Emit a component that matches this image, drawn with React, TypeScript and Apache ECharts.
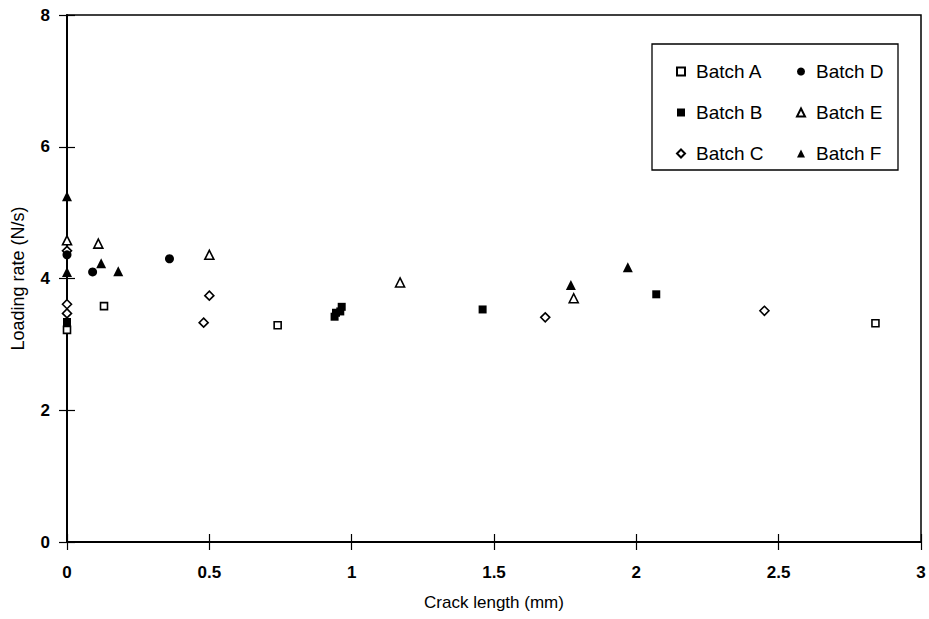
import React, { useEffect, useRef } from "react";
import * as echarts from "echarts";

const xTicks = [0, 0.5, 1, 1.5, 2, 2.5, 3];
const yTicks = [0, 2, 4, 6, 8];

const batchA: number[][] = [[0, 3.22], [0.13, 3.58], [0.74, 3.29], [2.84, 3.32]];
const batchB: number[][] = [[0, 3.34], [0.94, 3.42], [0.945, 3.48], [0.96, 3.5], [0.965, 3.57], [1.46, 3.53], [2.07, 3.76]];
const batchC: number[][] = [[0, 3.47], [0, 3.61], [0, 4.42], [0.48, 3.33], [0.5, 3.74], [1.68, 3.41], [2.45, 3.51]];
const batchD: number[][] = [[0, 4.36], [0.09, 4.1], [0.36, 4.3]];
const batchE: number[][] = [[0, 4.58], [0.11, 4.53], [0.5, 4.36], [1.17, 3.94], [1.78, 3.7]];
const batchF: number[][] = [[0, 5.25], [0, 4.1], [0.12, 4.23], [0.18, 4.11], [1.77, 3.9], [1.97, 4.17]];

const FONT = "Liberation Sans, Arial, sans-serif";

export default function App() {
  const ref = useRef<HTMLDivElement>(null);
  useEffect(() => {
    if (!ref.current) return;
    const chart = echarts.init(ref.current, undefined, { renderer: "svg" });
    const open = { color: "#fff", borderColor: "#000", borderWidth: 1.6, opacity: 1 };
    const filled = { color: "#000", borderColor: "#000", borderWidth: 0, opacity: 1 };
    const series = [
      { name: "Batch A", data: batchA, symbol: "rect", symbolSize: 7, itemStyle: open },
      { name: "Batch B", data: batchB, symbol: "rect", symbolSize: 8, itemStyle: filled },
      { name: "Batch C", data: batchC, symbol: "diamond", symbolSize: 9, itemStyle: open },
      { name: "Batch D", data: batchD, symbol: "circle", symbolSize: 9, itemStyle: filled },
      { name: "Batch E", data: batchE, symbol: "triangle", symbolSize: 9, itemStyle: open },
      { name: "Batch F", data: batchF, symbol: "triangle", symbolSize: 10, itemStyle: filled },
    ].map((s) => ({ ...s, type: "scatter", xAxisIndex: 0, yAxisIndex: 0, z: 5 }));

    const legendCommon = {
      orient: "vertical",
      itemWidth: 8,
      itemHeight: 8,
      itemGap: 22,
      selectedMode: false,
      textStyle: { fontFamily: FONT, fontSize: 19, color: "#000", padding: [0, 0, 0, 6] },
    };

    chart.setOption({
      animation: false,
      backgroundColor: "#fff",
      grid: {
        left: 67,
        right: 8,
        top: 15,
        bottom: 77,
        show: true,
        borderColor: "#000",
        borderWidth: 1.5,
        backgroundColor: "transparent",
      },
      legend: [
        { ...legendCommon, left: 671, top: 57, data: ["Batch A", "Batch B", "Batch C"] },
        { ...legendCommon, left: 791, top: 57, data: ["Batch D", "Batch E", "Batch F"] },
      ],
      graphic: [
        {
          type: "rect",
          shape: { x: 652, y: 44, width: 246, height: 126 },
          style: { fill: "#fff", stroke: "#000", lineWidth: 1.3 },
          z: 0,
        },
      ],
      xAxis: [
        {
          type: "value",
          min: xTicks[0],
          max: xTicks[xTicks.length - 1],
          interval: 0.5,
          position: "bottom",
          name: "Crack length (mm)",
          nameLocation: "middle",
          nameGap: 52,
          nameTextStyle: { fontFamily: FONT, fontSize: 17, color: "#000" },
          axisLine: { show: true, lineStyle: { color: "#000", width: 2 } },
          axisTick: { show: true, inside: false, length: 8, lineStyle: { color: "#000", width: 1.2 } },
          axisLabel: { fontFamily: FONT, fontSize: 17, fontWeight: "bold", color: "#000", margin: 22 },
          splitLine: { show: false },
        },
        {
          type: "value",
          min: xTicks[0],
          max: xTicks[xTicks.length - 1],
          interval: 0.5,
          position: "bottom",
          axisLine: { show: false },
          axisTick: { show: true, inside: true, length: 8, lineStyle: { color: "#000", width: 1.2 } },
          axisLabel: { show: false },
          splitLine: { show: false },
        },
      ],
      yAxis: [
        {
          type: "value",
          min: yTicks[0],
          max: yTicks[yTicks.length - 1],
          interval: 2,
          position: "left",
          name: "Loading rate (N/s)",
          nameLocation: "middle",
          nameGap: 40,
          nameTextStyle: { fontFamily: FONT, fontSize: 18, color: "#000" },
          axisLine: { show: true, lineStyle: { color: "#000", width: 2 } },
          axisTick: { show: true, inside: false, length: 8, lineStyle: { color: "#000", width: 1.2 } },
          axisLabel: { fontFamily: FONT, fontSize: 17, fontWeight: "bold", color: "#000", margin: 17 },
          splitLine: { show: false },
        },
        {
          type: "value",
          min: yTicks[0],
          max: yTicks[yTicks.length - 1],
          interval: 2,
          position: "left",
          axisLine: { show: false },
          axisTick: { show: true, inside: true, length: 8, lineStyle: { color: "#000", width: 1.2 } },
          axisLabel: { show: false },
          splitLine: { show: false },
        },
      ],
      series,
    });
    return () => chart.dispose();
  }, []);
  return <div ref={ref} style={{ width: 929, height: 619, position: "absolute", left: 0, top: 0 }} />;
}
